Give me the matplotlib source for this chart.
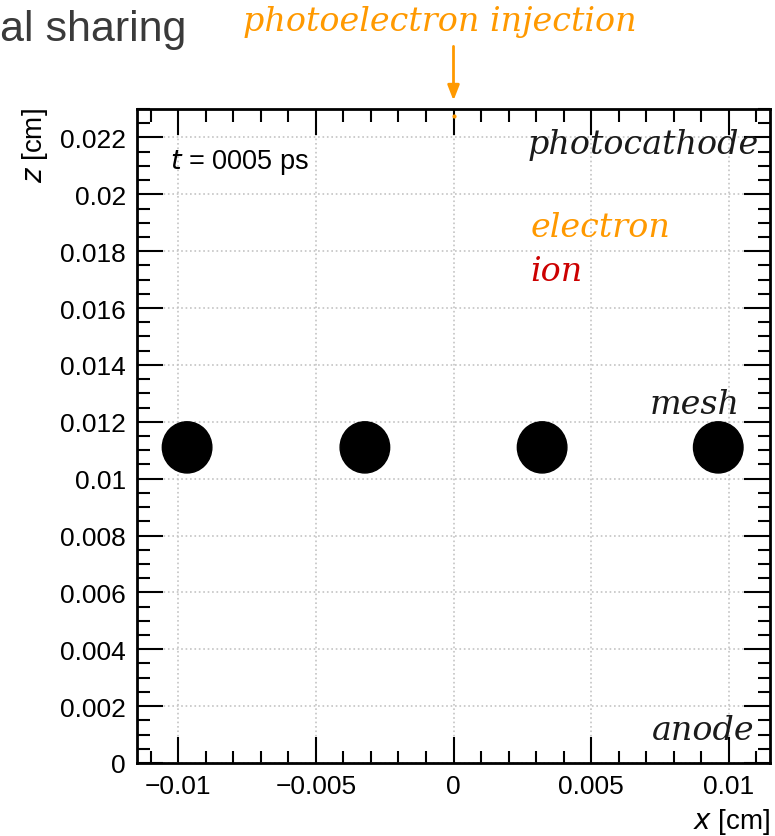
import matplotlib
matplotlib.use("Agg")
import matplotlib.pyplot as plt
from matplotlib.patches import Circle
from matplotlib.ticker import MultipleLocator, FuncFormatter

# ---- data ----
wire_x = [-0.00968, -0.00322, 0.00322, 0.00962]
wire_z = 0.0111
wire_r = 0.0009
electron_x = [0.0]
electron_z = [0.02275]
x_range = (-0.0115, 0.0115)
z_range = (0.0, 0.023)
x_major = 0.005
x_minor = 0.001
z_major = 0.002
z_minor = 0.0005
time_label = "0005 ps"

ORANGE = "#FF9900"
RED = "#CC0000"
W, H = 775, 837

fig = plt.figure(figsize=(W / 100, H / 100), dpi=100)
ax = fig.add_axes([137 / W, 1 - 764 / H, (770 - 137) / W, (764 - 110) / H])
ax.set_xlim(*x_range)
ax.set_ylim(*z_range)

ax.xaxis.set_major_locator(MultipleLocator(x_major))
ax.xaxis.set_minor_locator(MultipleLocator(x_minor))
ax.yaxis.set_major_locator(MultipleLocator(z_major))
ax.yaxis.set_minor_locator(MultipleLocator(z_minor))

def fmt(v, pos):
    if abs(v) < 1e-12:
        return "0"
    s = ("%.4f" % v).rstrip("0")
    return s.replace("-", "\u2212")

ax.xaxis.set_major_formatter(FuncFormatter(fmt))
ax.yaxis.set_major_formatter(FuncFormatter(fmt))

ax.tick_params(which="both", direction="in", top=True, right=True, colors="black",
               labelsize=19, width=1.5)
ax.tick_params(which="major", length=19)
ax.tick_params(which="minor", length=9)
ax.tick_params(axis="x", pad=8)
ax.tick_params(axis="y", pad=8)
for lab in ax.get_xticklabels() + ax.get_yticklabels():
    lab.set_fontfamily("Liberation Sans")
for s in ax.spines.values():
    s.set_linewidth(2)

ax.grid(True, which="major", linestyle=":", color="#c4c4c4", linewidth=1.2)
ax.set_axisbelow(True)

for wx in wire_x:
    ax.add_patch(Circle((wx, wire_z), wire_r, color="black", zorder=3))

ax.scatter(electron_x, electron_z, s=4, color=ORANGE, zorder=4)

serif = dict(family="DejaVu Serif", style="italic")
ax.text(0.982, 0.947, "photocathode", transform=ax.transAxes, ha="right", va="center",
        fontsize=24, color="#1a1a1a", **serif)
ax.text(0.622, 0.82, "electron", transform=ax.transAxes, ha="left", va="center",
        fontsize=24, color=ORANGE, **serif)
ax.text(0.622, 0.752, "ion", transform=ax.transAxes, ha="left", va="center",
        fontsize=24, color=RED, **serif)
ax.text(0.952, 0.549, "mesh", transform=ax.transAxes, ha="right", va="center",
        fontsize=24, color="#1a1a1a", **serif)
ax.text(0.976, 0.05, "anode", transform=ax.transAxes, ha="right", va="center",
        fontsize=24, color="#1a1a1a", **serif)

ax.text(0.052, 0.92, "$t$ = " + time_label, transform=ax.transAxes, ha="left",
        va="center", fontsize=19.5, family="Liberation Sans")

fig.text(770 / W, 1 - 822 / H, "$x$ [cm]", ha="right", va="center", fontsize=20,
         family="Liberation Sans")
fig.text(35 / W, 1 - 108 / H, "$z$ [cm]", ha="center", va="top", rotation=90,
         fontsize=20, family="Liberation Sans")

fig.text(0 / W, 1 - 30 / H, "al sharing", ha="left", va="center", fontsize=31,
         color="#3a3a3a", family="Liberation Sans")
fig.text(440 / W, 1 - 22 / H, "photoelectron injection", ha="center", va="center",
         fontsize=24, color=ORANGE, **serif)
ax.annotate("", xy=(0.0, z_range[1] + 0.0002), xycoords="data",
            xytext=(0.0, z_range[1] + 0.0023), textcoords="data",
            arrowprops=dict(arrowstyle="-|>,head_width=0.35,head_length=0.9",
                            color=ORANGE, lw=2), annotation_clip=False)

fig.savefig("out.png", dpi=100)
